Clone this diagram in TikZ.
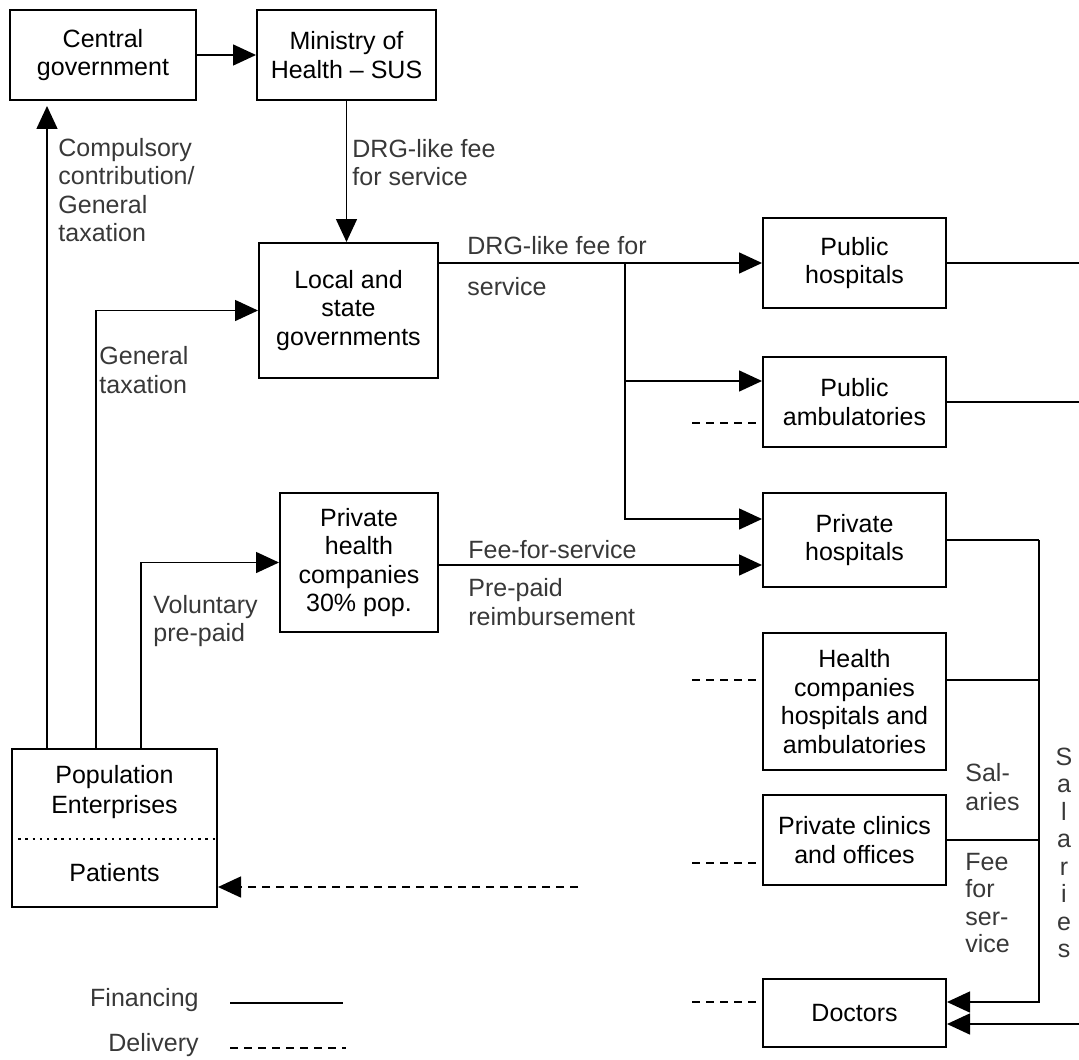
\documentclass[tikz,border=0pt]{standalone}
\usepackage{fontspec}
\setmainfont{Liberation Sans}
\usetikzlibrary{arrows.meta,calc}
\begin{document}
\begin{tikzpicture}[x=0.5pt,y=-0.5pt,
  box/.style={draw, line width=1pt, inner sep=0pt, align=center, font=\fontsize{12.5}{14.25}\selectfont},
  btxt/.style={inner sep=0pt, align=center, font=\fontsize{12.5}{14.75}\selectfont},
  lbl/.style={inner sep=0pt, align=left, anchor=west, text=black!78, font=\fontsize{12.5}{14.25}\selectfont},
  fin/.style={line width=0.75pt, -{Triangle[length=11.5pt,width=10.5pt]}},
  finline/.style={line width=0.75pt},
  del/.style={line width=0.75pt, dash pattern=on 4pt off 3pt},
  deltip/.style={line width=0.75pt, dash pattern=on 4pt off 3pt, -{Triangle[length=11.5pt,width=10.5pt]}},
]
\useasboundingbox (0,0) rectangle (1079,1059);

% boxes
\node[box, minimum width=93pt, minimum height=45pt] (cg) at (103,55) {Central\\government};
\node[box, minimum width=89.5pt, minimum height=45pt] (moh) at (346.5,55) {Ministry of\\Health -- SUS};
\node[box, minimum width=89.5pt, minimum height=67.5pt] (loc) at (348.5,310.5) {Local and\\state\\governments};
\node[box, minimum width=91.5pt, minimum height=45pt] (ph) at (854.5,263) {Public\\hospitals};
\node[box, minimum width=91.5pt, minimum height=45pt] (pa) at (854.5,402) {Public\\ambulatories};
\node[box, minimum width=91.5pt, minimum height=47pt] (prh) at (854.5,540) {Private\\hospitals};
\node[box, minimum width=91.5pt, minimum height=68.5pt] (hc) at (854.5,701.5) {Health\\companies\\hospitals and\\ambulatories};
\node[box, minimum width=91.5pt, minimum height=45pt] (pc) at (854.5,840) {Private clinics\\and offices};
\node[box, minimum width=91.5pt, minimum height=34pt] (doc) at (854.5,1013) {Doctors};
\node[box, minimum width=79pt, minimum height=69.5pt] (phc) at (359,562.5) {Private\\health\\companies\\30\% pop.};
\node[box, minimum width=102.5pt, minimum height=79pt] (pop) at (114.5,828) {};
\node[btxt] (popt) at (114.5,792) {Population\\Enterprises};
\node[btxt] (patt) at (114.5,873) {Patients};
\draw[line width=0.75pt, dash pattern=on 1.2pt off 2.4pt] ([yshift=-5.5pt]pop.west) -- ([yshift=-5.5pt]pop.east);

% financing connectors, left
\draw[fin] (cg) -- (moh);
\draw[fin] (moh.south) -- (moh.south |- loc.north);
\draw[fin, shorten >=2.5pt] ([xshift=18pt]pop.north west) -- ([xshift=18pt]pop.north west |- cg.south);
\draw[fin] ([xshift=42.5pt]pop.north west) |- (loc.west);
\draw[fin] ([xshift=65pt]pop.north west) |- (phc.west);

% local -> providers
\draw[fin] (loc.north east |- ph.west) -- (ph.west);
\coordinate (br) at (625,263);
\draw[fin] (br) |- ([yshift=10.5pt]pa.west);
\draw[fin] (br) |- ([yshift=10.5pt]prh.west);
\coordinate (prin) at ([yshift=-12.5pt]prh.west);
\draw[fin] (phc.east |- prin) -- (prin);

% right side
\coordinate (edge) at (1079,0);
\coordinate (vx) at (1039,540);
\draw[finline] (ph.east) -- (ph.east -| edge);
\draw[finline] (pa.east) -- (pa.east -| edge);
\draw[finline] (prh.east) -- (vx);
\draw[fin] (vx) |- ([yshift=5.5pt]doc.east);
\draw[finline] ([yshift=10.75pt]hc.east) -- ([yshift=10.75pt]hc.east -| vx);
\draw[finline] (pc.east) -- (pc.east -| vx);
\draw[fin] ([yshift=-5.5pt]doc.east -| edge) -- ([yshift=-5.5pt]doc.east);

% delivery stubs
\coordinate (dl) at (692,0);
\draw[del] ([yshift=-10.5pt]pa.west -| dl) -- ([yshift=-10.5pt]pa.west);
\draw[del] ([yshift=10.75pt]hc.west -| dl) -- ([yshift=10.75pt]hc.west);
\draw[del] ([yshift=-11.5pt]pc.west -| dl) -- ([yshift=-11.5pt]pc.west);
\draw[del] ([yshift=5.5pt]doc.west -| dl) -- ([yshift=5.5pt]doc.west);
\coordinate (dd) at (578,887);
\draw[deltip] (dd) -- (dd -| pop.east);

% labels
\node[lbl] (l1) at (58,190) {Compulsory\\contribution/\\General\\taxation};
\node[lbl] (l2) at (352,162.5) {DRG-like fee\\for service};
\node[lbl] (l3) at (467,246) {DRG-like fee for};
\node[lbl] (l4) at (467,287) {service};
\node[lbl] (l5) at (99,370) {General\\taxation};
\node[lbl] (l6) at (153,621) {Voluntary\\pre-paid};
\node[lbl] (l7) at (468,550) {Fee-for-service};
\node[lbl] (l8) at (468,602) {Pre-paid\\reimbursement};
\node[lbl] (l9) at (965,787) {Sal-\\aries};
\node[lbl, font=\fontsize{12.5}{13.75}\selectfont] (l10) at (965,903) {Fee\\for\\ser-\\vice};
\node[lbl, align=center, anchor=center, font=\fontsize{12.5}{13.75}\selectfont] (l11) at (1064,853) {S\\a\\l\\a\\r\\i\\e\\s};

% legend
\node[lbl, anchor=east] (lf) at (199,1000) {Financing};
\node[lbl, anchor=east] (ld) at (199,1045) {Delivery};
\draw[finline] ([xshift=15.5pt,yshift=-1.5pt]lf.east) -- ++(113,0);
\draw[del] ([xshift=15.5pt,yshift=-1.5pt]ld.east) -- ++(116,0);
\end{tikzpicture}
\end{document}
